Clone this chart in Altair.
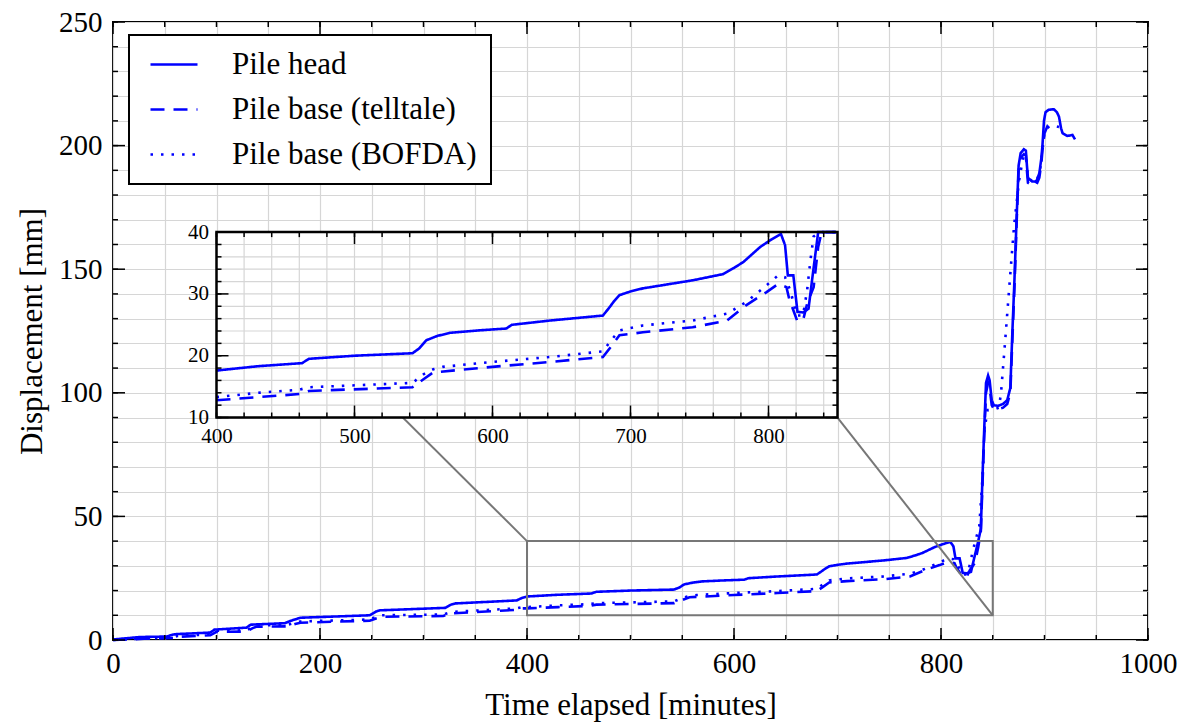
import altair as alt
import pandas as pd

# ---------------- data ----------------
SERIES = ["Pile head", "Pile base (telltale)", "Pile base (BOFDA)"]

HEAD_T = [0, 10, 26, 52, 58, 62, 94, 98, 129, 133, 166, 172, 181, 248, 254, 258, 321, 326, 331, 390,
          395, 400, 430, 462, 467, 500, 542, 547, 552, 560, 569, 590, 610, 614, 642, 680, 684, 688, 692, 700,
          709, 745, 767, 775, 782, 794, 802, 809, 812, 814, 818, 821, 825, 829, 832, 836, 838.5, 840, 842, 843.5,
          845.5, 847, 849, 851, 855, 860, 864, 867, 869, 871, 873, 875, 877, 880, 882, 883, 884, 888, 892, 895,
          897, 898, 899.5, 901, 904, 909, 912, 914, 916, 917.5, 922, 927, 929.5]
HEAD_D = [0.2, 0.6, 1.2, 1.4, 2.2, 2.4, 3.0, 4.2, 5.0, 6.2, 6.8, 7.8, 9.0, 10.0, 11.5, 12.0, 13.0, 14.2, 14.8, 16.0,
          17.0, 17.6, 18.3, 18.8, 19.5, 20.0, 20.4, 21.2, 22.5, 23.2, 23.7, 24.1, 24.4, 25.0, 25.7, 26.5, 27.6, 28.8, 29.8, 30.4,
          30.9, 32.2, 33.2, 34.2, 35.2, 37.6, 38.8, 39.7, 37.9, 33.0, 33.0, 27.1, 27.0, 27.6, 33.0, 40.0, 45, 65, 88, 104,
          107, 105, 97, 95, 94.7, 95.5, 97, 102, 125, 146, 170, 192, 197, 198.5, 198, 192, 187, 185.5, 185.4, 188.8,
          195, 200, 210, 213.5, 214.5, 214.7, 213.5, 211.7, 207, 205, 203.9, 204.3, 202.5]

TELL_T = [0, 30, 58, 62, 94, 100, 129, 135, 139, 168, 176, 181, 248, 256, 258, 319, 325, 329, 390, 395,
          400, 430, 460, 467, 542, 550, 557, 600, 642, 680, 686, 692, 709, 745, 770, 784, 798.6, 807, 813, 815,
          820.7, 825, 828, 832.7, 836, 838.5, 840, 842, 843.5, 845.5, 847, 849, 851, 856, 860, 864, 867, 869, 871, 873,
          875, 877, 880, 882, 883, 884, 888, 892, 895, 897, 898, 900, 903, 909, 914]
TELL_D = [0, 0.5, 0.8, 1.3, 1.9, 3.3, 3.4, 4.8, 5.4, 5.5, 6.5, 7.0, 7.8, 9.0, 9.4, 9.7, 10.5, 10.8, 12.2, 12.8,
          12.8, 13.3, 13.8, 14.3, 14.9, 16.2, 17.3, 18.2, 19.0, 19.8, 21.5, 23.3, 23.8, 24.6, 25.7, 28.2, 30.3, 31.6, 31.1, 29.2,
          25.7, 25.7, 28.4, 31.1, 37.6, 44, 62, 85, 100, 104, 102, 95, 93.5, 93.5, 94, 95.5, 100, 122, 143, 168,
          190, 195, 196.5, 196, 190, 185, 184, 184, 187, 193, 198, 205, 208, 208, 207.5]

BOF_T = [0, 30, 58, 62, 94, 100, 129, 135, 139, 168, 176, 181, 248, 256, 258, 319, 325, 329, 390, 395,
         400, 430, 460, 467, 542, 550, 557, 564, 600, 642, 680, 686, 692, 709, 745, 770, 784, 798.6, 807, 812,
         815.7, 820.7, 825, 828, 830.4, 832.7, 837, 840, 842, 845, 850, 856, 858, 862, 866, 870.7, 875.5, 878, 880, 882,
         884, 890, 895, 898, 900, 905, 912]
BOF_D = [0, 0.6, 1.0, 1.6, 2.3, 3.8, 3.9, 5.3, 5.9, 6.0, 7.0, 7.5, 8.3, 9.6, 10.0, 10.3, 11.1, 11.4, 12.8, 13.3,
         13.3, 14.0, 14.5, 14.9, 15.6, 17.0, 17.8, 18.2, 19.0, 19.8, 20.7, 22.5, 24.1, 24.9, 25.7, 26.8, 28.7, 31.4, 33.0, 32.7,
         30.6, 26.5, 26.5, 30.6, 35.5, 39.3, 46, 65, 85, 93, 93, 94, 100, 121, 143, 168, 186, 192, 196, 196,
         187, 185, 188, 198, 206, 208, 208]

X_TITLE = "Time elapsed [minutes]"
Y_TITLE = "Displacement [mm]"

X_DOMAIN = [0, 1000]
Y_DOMAIN = [0, 250]
X_LABELS = [0, 200, 400, 600, 800, 1000]
X_MINOR = list(range(0, 1001, 50))
Y_LABELS = [0, 50, 100, 150, 200, 250]
Y_MINOR = list(range(0, 251, 10))

INSET_X = [400, 850]          # zoomed data window
INSET_Y = [10, 40]
INSET_X_LABELS = [400, 500, 600, 700, 800]
INSET_X_MINOR = list(range(400, 851, 20))
INSET_Y_LABELS = [10, 20, 30, 40]
INSET_Y_MINOR = list(range(10, 41, 2))
INSET_BOX_X = [100, 700]      # where the inset sits, in main-axis units
INSET_BOX_Y = [90, 165]

# ---------------- styling / layout ----------------
W, H = 1035, 618
PAD = {"left": 113, "top": 22, "right": 42, "bottom": 84}
FONT = "Liberation Serif"
BLUE = "#0000ff"
GRID = "#d6d6d6"
BOXGRAY = "#777777"
DASHES = [[1, 0], [14, 9], [2.5, 8]]
LW = 2.6
MAJ, MIN = 12, 5


def px_x(v):
    return (v - X_DOMAIN[0]) / (X_DOMAIN[1] - X_DOMAIN[0]) * W


def px_y(v):
    return H - (v - Y_DOMAIN[0]) / (Y_DOMAIN[1] - Y_DOMAIN[0]) * H


IX0, IX1 = px_x(INSET_BOX_X[0]), px_x(INSET_BOX_X[1])
IYB, IYT = px_y(INSET_BOX_Y[0]), px_y(INSET_BOX_Y[1])

rows = []
for name, ts, ds in [(SERIES[0], HEAD_T, HEAD_D), (SERIES[1], TELL_T, TELL_D), (SERIES[2], BOF_T, BOF_D)]:
    for t, d in zip(ts, ds):
        rows.append({"series": name, "t": t, "d": d})
df = pd.DataFrame(rows)

legend = alt.Legend(
    title=None, orient="none", legendX=16, legendY=13,
    labelFont=FONT, labelFontSize=31, labelColor="black", labelLimit=600,
    symbolType="stroke", symbolSize=47 * 47, symbolStrokeWidth=LW, symbolStrokeColor=BLUE,
    symbolOffset=6, labelOffset=33, padding=14, rowPadding=13, clipHeight=31,
    fillColor="white", strokeColor="black", zindex=1,
)
dash = alt.StrokeDash("series:N", scale=alt.Scale(domain=SERIES, range=DASHES), legend=legend)

# ---------------- main panel ----------------
xs = alt.Scale(domain=X_DOMAIN, nice=False, zero=False)
ys = alt.Scale(domain=Y_DOMAIN, nice=False, zero=False)
x_axis = alt.Axis(
    values=X_MINOR, labelExpr="datum.value % 200 === 0 ? datum.label : ''", format="d",
    grid=True, gridColor=GRID, gridWidth=1.2, ticks=False, tickSize=0, domain=False,
    labelFont=FONT, labelFontSize=29, labelColor="black", labelPadding=9, labelFlush=False, labelOverlap=False,
    title=X_TITLE, titleFont=FONT, titleFontSize=31, titleFontWeight="normal", titleColor="black", titlePadding=12,
    zindex=0,
)
y_axis = alt.Axis(
    values=Y_MINOR, labelExpr="datum.value % 50 === 0 ? datum.label : ''", format="d",
    grid=True, gridColor=GRID, gridWidth=1.2, ticks=False, tickSize=0, domain=False,
    labelFont=FONT, labelFontSize=29, labelColor="black", labelPadding=11, labelFlush=False, labelOverlap=False,
    title=Y_TITLE, titleFont=FONT, titleFontSize=31, titleFontWeight="normal", titleColor="black", titlePadding=10,
    zindex=0,
)


def X(field):
    return alt.X(field, scale=xs, axis=x_axis)


def Y(field):
    return alt.Y(field, scale=ys, axis=y_axis)


main_lines = alt.Chart(df).mark_line(strokeWidth=LW, color=BLUE).encode(
    x=X("t:Q"), y=Y("d:Q"), strokeDash=dash
)

zoom_box = pd.DataFrame({"x0": [INSET_X[0]], "x1": [INSET_X[1]], "y0": [INSET_Y[0]], "y1": [INSET_Y[1]]})
zoom_rect = alt.Chart(zoom_box).mark_rect(fillOpacity=0, stroke=BOXGRAY, strokeWidth=2).encode(
    x=X("x0:Q"), x2="x1:Q", y=Y("y0:Q"), y2="y1:Q"
)
conn = pd.DataFrame({
    "xa": [INSET_BOX_X[0], INSET_BOX_X[1]], "ya": [INSET_BOX_Y[1], INSET_BOX_Y[0]],
    "xb": [INSET_X[0], INSET_X[1]], "yb": [INSET_Y[1], INSET_Y[0]],
})
connectors = alt.Chart(conn).mark_rule(color=BOXGRAY, strokeWidth=2).encode(
    x=X("xa:Q"), y=Y("ya:Q"), x2="xb:Q", y2="yb:Q"
)


def xticks(values, length):
    d = pd.DataFrame({"v": values})
    bot = alt.Chart(d).mark_rule(color="black", strokeWidth=1.5).encode(
        x=X("v:Q"), y=alt.value(H), y2=alt.value(H - length))
    top = alt.Chart(d).mark_rule(color="black", strokeWidth=1.5).encode(
        x=X("v:Q"), y=alt.value(0), y2=alt.value(length))
    return [bot, top]


def yticks(values, length):
    d = pd.DataFrame({"v": values})
    left = alt.Chart(d).mark_rule(color="black", strokeWidth=1.5).encode(
        y=Y("v:Q"), x=alt.value(0), x2=alt.value(length))
    right = alt.Chart(d).mark_rule(color="black", strokeWidth=1.5).encode(
        y=Y("v:Q"), x=alt.value(W), x2=alt.value(W - length))
    return [left, right]


main = alt.layer(
    main_lines, zoom_rect, connectors,
    *xticks(X_MINOR, MIN), *xticks(X_LABELS, MAJ),
    *yticks(Y_MINOR, MIN), *yticks(Y_LABELS, MAJ),
)

# ---------------- inset panel ----------------
ixs = alt.Scale(domain=INSET_X, range=[IX0, IX1], nice=False, zero=False, clamp=True)
iys = alt.Scale(domain=INSET_Y, range=[IYB, IYT], nice=False, zero=False, clamp=True)
ix_axis = alt.Axis(
    orient="bottom", offset=IYB - H, values=INSET_X_LABELS, format="d",
    grid=False, ticks=False, tickSize=0, domain=False,
    labelFont=FONT, labelFontSize=21, labelColor="black", labelPadding=8, labelFlush=False, labelOverlap=False,
    title=None,
)
iy_axis = alt.Axis(
    orient="left", offset=-IX0, values=INSET_Y_LABELS, format="d",
    grid=False, ticks=False, tickSize=0, domain=False,
    labelFont=FONT, labelFontSize=21, labelColor="black", labelPadding=8, labelFlush=False, labelOverlap=False,
    title=None,
)


def IX(field):
    return alt.X(field, scale=ixs, axis=ix_axis)


def IY(field):
    return alt.Y(field, scale=iys, axis=iy_axis)


inset_bg = alt.Chart(zoom_box).mark_rect(fill="white").encode(
    x=IX("x0:Q"), x2="x1:Q", y=IY("y0:Q"), y2="y1:Q")

gx = pd.DataFrame({"v": INSET_X_MINOR, "lo": INSET_Y[0], "hi": INSET_Y[1]})
gy = pd.DataFrame({"v": INSET_Y_MINOR, "lo": INSET_X[0], "hi": INSET_X[1]})
inset_gx = alt.Chart(gx).mark_rule(color=GRID, strokeWidth=1.2).encode(
    x=IX("v:Q"), y=IY("lo:Q"), y2="hi:Q")
inset_gy = alt.Chart(gy).mark_rule(color=GRID, strokeWidth=1.2).encode(
    y=IY("v:Q"), x=IX("lo:Q"), x2="hi:Q")

inset_lines = alt.Chart(df).transform_filter(
    (alt.datum.t >= INSET_X[0]) & (alt.datum.t <= INSET_X[1])
).mark_line(strokeWidth=LW, color=BLUE).encode(
    x=IX("t:Q"), y=IY("d:Q"), strokeDash=dash
)

inset_border = alt.Chart(zoom_box).mark_rect(fillOpacity=0, stroke="black", strokeWidth=2.5).encode(
    x=IX("x0:Q"), x2="x1:Q", y=IY("y0:Q"), y2="y1:Q")


def ixticks(values, length):
    d = pd.DataFrame({"v": values})
    bot = alt.Chart(d).mark_rule(color="black", strokeWidth=1.5).encode(
        x=IX("v:Q"), y=alt.value(IYB), y2=alt.value(IYB - length))
    top = alt.Chart(d).mark_rule(color="black", strokeWidth=1.5).encode(
        x=IX("v:Q"), y=alt.value(IYT), y2=alt.value(IYT + length))
    return [bot, top]


def iyticks(values, length):
    d = pd.DataFrame({"v": values})
    left = alt.Chart(d).mark_rule(color="black", strokeWidth=1.5).encode(
        y=IY("v:Q"), x=alt.value(IX0), x2=alt.value(IX0 + length))
    right = alt.Chart(d).mark_rule(color="black", strokeWidth=1.5).encode(
        y=IY("v:Q"), x=alt.value(IX1), x2=alt.value(IX1 - length))
    return [left, right]


inset = alt.layer(
    inset_bg, inset_gx, inset_gy, inset_lines,
    *ixticks(INSET_X_MINOR, MIN), *ixticks(list(range(400, 851, 100)), MAJ),
    *iyticks(INSET_Y_MINOR, MIN), *iyticks(INSET_Y_LABELS, MAJ),
    inset_border,
)

chart = alt.layer(main, inset).resolve_scale(
    x="independent", y="independent"
).properties(
    width=W, height=H, padding=PAD, autosize="none", background="white"
).configure_view(
    stroke="black", strokeWidth=2
).configure_legend(
    strokeWidth=2
)

chart.save("out.html", embed_options={"renderer": "svg", "actions": False})
